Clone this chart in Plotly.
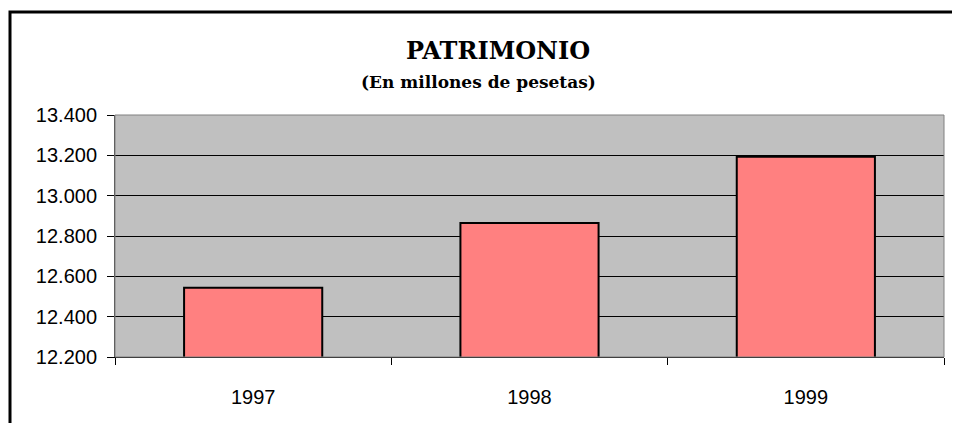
import plotly.graph_objects as go

years = ["1997", "1998", "1999"]
patrimonio = [12544, 12864, 13193]
y_ticks = [12200, 12400, 12600, 12800, 13000, 13200, 13400]

OFF = 8  # page body margin
W, H = 960, 423
# target plot-area edges on screen
PL, PR, PT, PB = 115, 944, 115, 357
L, T = PL - OFF, PT - OFF
R = W - (PR - OFF)
B = H - (PB - OFF)
pw, ph = W - L - R, H - T - B

def px_x(x):
    return (x - PL) / pw

def px_y(y):
    return 1 + (PT - y) / ph

fig = go.Figure()
fig.add_trace(go.Bar(
    x=years, y=patrimonio,
    width=0.5,
    marker=dict(color="#FF8080", line=dict(color="black", width=2)),
    hoverinfo="x+y",
))

fig.update_layout(
    width=W, height=H,
    margin=dict(l=L, r=R, t=T, b=B),
    paper_bgcolor="white",
    plot_bgcolor="#C0C0C0",
    separators=",.",
    showlegend=False,
    font=dict(family="Liberation Sans, Arial, sans-serif", color="black"),
    xaxis=dict(
        type="category",
        tickson="boundaries",
        ticks="outside", ticklen=7, tickcolor="black", tickwidth=1,
        showline=True, linecolor="black", linewidth=1,
        showgrid=False,
        tickfont=dict(size=20),
        ticklabelstandoff=22,
    ),
    yaxis=dict(
        range=[12200, 13400],
        tickvals=y_ticks,
        tickformat=",.0f",
        ticks="outside", ticklen=7, tickcolor="black", tickwidth=1,
        showline=True, linecolor="#404040", linewidth=1,
        showgrid=True, gridcolor="black", gridwidth=1,
        zeroline=False,
        tickfont=dict(size=20),
        ticklabelstandoff=6,
    ),
    shapes=[
        dict(type="rect", xref="paper", yref="paper",
             x0=0, x1=1, y0=0, y1=1,
             line=dict(color="#808080", width=1), fillcolor="rgba(0,0,0,0)", layer="above"),
        dict(type="rect", xref="paper", yref="paper",
             x0=px_x(10), x1=px_x(1000), y0=px_y(500), y1=px_y(12),
             line=dict(color="black", width=3), fillcolor="rgba(0,0,0,0)"),
    ],
    annotations=[
        dict(text="<b>PATRIMONIO</b>", xref="paper", yref="paper",
             x=px_x(498), y=px_y(50), xanchor="center", yanchor="middle",
             showarrow=False,
             font=dict(family="DejaVu Serif, serif", size=24, color="black")),
        dict(text="<b>(En millones de pesetas)</b>", xref="paper", yref="paper",
             x=px_x(478), y=px_y(82), xanchor="center", yanchor="middle",
             showarrow=False,
             font=dict(family="DejaVu Serif, serif", size=17, color="black")),
    ],
)

fig.write_html("out.html")
